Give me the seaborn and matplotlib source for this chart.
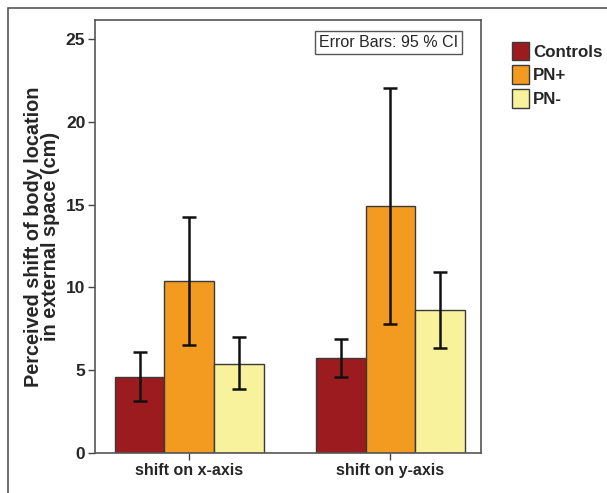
import pandas as pd
import numpy as np
import matplotlib
matplotlib.use("Agg")
import matplotlib.pyplot as plt
import seaborn as sns
from matplotlib.patches import Rectangle

# data
categories = ["shift on x-axis", "shift on y-axis"]
groups = ["Controls", "PN+", "PN-"]
means = {
    "Controls": [4.6, 5.75],
    "PN+": [10.4, 14.9],
    "PN-": [5.4, 8.65],
}
ci_low = {
    "Controls": [3.15, 4.57],
    "PN+": [6.55, 7.78],
    "PN-": [3.86, 6.34],
}
ci_high = {
    "Controls": [6.07, 6.9],
    "PN+": [14.25, 22.02],
    "PN-": [6.98, 10.96],
}
yticks = [0, 5, 10, 15, 20, 25]
colors = ["#9c1b1f", "#f39b20", "#f7f29b"]

rows = []
for g in groups:
    for i, c in enumerate(categories):
        rows.append({"axis": c, "group": g, "mean": means[g][i],
                     "lo": ci_low[g][i], "hi": ci_high[g][i]})
df = pd.DataFrame(rows)

sns.set_style("white")
plt.rcParams['font.family'] = ['Liberation Sans', 'DejaVu Sans']

fig = plt.figure(figsize=(6.07, 4.93), dpi=100)
ax = fig.add_axes([95 / 607, 1 - 453 / 493, (481 - 95) / 607, (453 - 20) / 493])

sns.barplot(data=df, x="axis", y="mean", hue="group", hue_order=groups,
            order=categories, palette=colors, errorbar=None, width=0.74,
            edgecolor="#3a3a3a", linewidth=1.0, saturation=1, ax=ax)

# error bars from the CI arrays, placed on the bar centres
for patch_set, g in zip(ax.containers, groups):
    sub = df[df["group"] == g].set_index("axis").loc[categories]
    xs = [p.get_x() + p.get_width() / 2 for p in patch_set]
    m = sub["mean"].values
    yerr = np.vstack([m - sub["lo"].values, sub["hi"].values - m])
    ax.errorbar(xs, m, yerr=yerr, fmt="none", ecolor="#111111",
                elinewidth=1.8, capsize=5, capthick=1.8, zorder=5)

ax.set_xlim(-0.468, 1.45)
ax.set_ylim(0, 26.15)
ax.set_yticks(yticks)
ax.set_yticklabels([str(t) for t in yticks], fontsize=12.5, fontweight="bold")
ax.set_xticks(range(len(categories)))
ax.set_xticklabels(categories, fontsize=11.5, fontweight="bold")
ax.set_xlabel("")
ax.set_ylabel("Perceived shift of body location\nin external space (cm)",
              fontsize=14.3, fontweight="bold", labelpad=4, linespacing=0.9)
ax.tick_params(axis="both", direction="out", length=5, width=1,
               color="#444444", left=True, bottom=True, pad=2)
for s in ax.spines.values():
    s.set_color("#555555")
    s.set_linewidth(1.2)

ax.text(0.94, 0.965, "Error Bars: 95 % CI", transform=ax.transAxes,
        ha="right", va="top", fontsize=11.5,
        bbox=dict(boxstyle="square,pad=0.25", fc="white", ec="#555555", lw=1))

handles, labels = ax.get_legend_handles_labels()
leg = ax.legend(handles, labels, loc="upper left", bbox_to_anchor=(1.062, 0.965),
                frameon=False, prop={"weight": "bold", "size": 12.2},
                handlelength=1.0, handleheight=1.3, handletextpad=0.25,
                labelspacing=0.3, borderaxespad=0)

# outer frame of the figure
fig.add_artist(Rectangle((8 / 607, -0.05), 1.1, 1 - 8 / 493 + 0.05,
                         transform=fig.transFigure, fill=False,
                         ec="#555555", lw=1.2))

fig.savefig("out.png", dpi=100)
